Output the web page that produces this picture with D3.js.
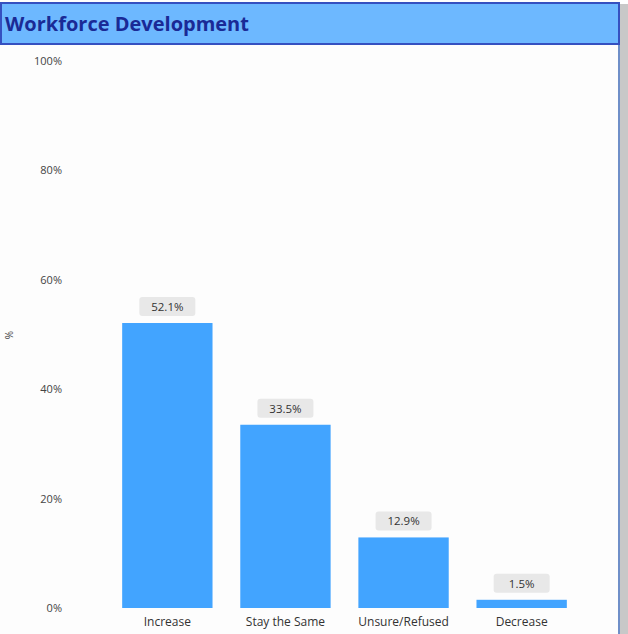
<!DOCTYPE html>
<html>
<head>
<meta charset="utf-8">
<script src="https://cdn.jsdelivr.net/npm/d3@7/dist/d3.min.js"></script>
<style>
  html, body { margin: 0; padding: 0; background: #ffffff; }
  svg { display: block; font-family: "Segoe UI", "Open Sans", "Noto Sans", sans-serif; }
</style>
</head>
<body>
<svg id="chart" width="628" height="634"></svg>
<script>
// Response categories and their shares (percent)
const categories = ["Increase", "Stay the Same", "Unsure/Refused", "Decrease"];
const values = [52.1, 33.5, 12.9, 1.5];
const yTicks = [0, 20, 40, 60, 80, 100];
const title = "Workforce Development";

const svg = d3.select("#chart");

// panel shadow and frame
svg.append("rect").attr("x", 620).attr("y", 4).attr("width", 8).attr("height", 630).attr("fill", "#c8c8c8");
svg.append("rect").attr("x", 0).attr("y", 0).attr("width", 620).attr("height", 634).attr("fill", "#fdfdfd");
svg.append("line").attr("x1", 619).attr("x2", 619).attr("y1", 40).attr("y2", 634)
  .attr("stroke", "#6f8fc8").attr("stroke-width", 2);

// header bar
svg.append("rect").attr("x", 1).attr("y", 3).attr("width", 618).attr("height", 41)
  .attr("fill", "#6db8ff").attr("stroke", "#3550c0").attr("stroke-width", 2);
svg.append("text").attr("x", 5).attr("y", 31)
  .attr("font-size", 20).attr("font-weight", "bold").attr("fill", "#1a2a96")
  .text(title);

const plotTop = 61, plotBottom = 608;

const x = d3.scaleBand()
  .domain(categories)
  .range([108, 581])
  .paddingInner(0.235)
  .paddingOuter(0.12);

const y = d3.scaleLinear().domain([0, 100]).range([plotBottom, plotTop]);

// y axis labels
const yAxis = d3.axisLeft(y).tickValues(yTicks).tickFormat(d => d + "%").tickSize(0).tickPadding(0);
const yg = svg.append("g").attr("transform", "translate(62,0)").call(yAxis);
yg.select(".domain").remove();
yg.selectAll("text").attr("font-size", 11).attr("fill", "#444").attr("font-family", "'Segoe UI', 'Open Sans', sans-serif");

// y axis title
svg.append("text")
  .attr("transform", "translate(13,335) rotate(-90)")
  .attr("text-anchor", "middle").attr("font-size", 10).attr("fill", "#444")
  .text("%");

// x axis labels
const xAxis = d3.axisBottom(x).tickSize(0).tickPadding(9);
const xg = svg.append("g").attr("transform", `translate(0,${plotBottom})`).call(xAxis);
xg.select(".domain").remove();
xg.selectAll("text").attr("font-size", 12).attr("fill", "#333").attr("font-family", "'Segoe UI', 'Open Sans', sans-serif");

// bars
svg.append("g").selectAll("rect")
  .data(values)
  .join("rect")
  .attr("x", (d, i) => x(categories[i]))
  .attr("y", d => y(d))
  .attr("width", x.bandwidth())
  .attr("height", d => y(0) - y(d))
  .attr("fill", "#42a4ff");

// value labels with rounded backgrounds
const lab = svg.append("g").selectAll("g")
  .data(values)
  .join("g")
  .attr("transform", (d, i) => `translate(${x(categories[i]) + x.bandwidth() / 2},${y(d) - 16})`);

lab.append("rect")
  .attr("x", -28).attr("y", -10).attr("width", 56).attr("height", 19)
  .attr("rx", 3).attr("fill", "#e8e8e8");

lab.append("text")
  .attr("text-anchor", "middle").attr("dy", "0.35em")
  .attr("font-size", 11.5).attr("fill", "#333")
  .text(d => d.toFixed(1) + "%");
</script>
</body>
</html>
